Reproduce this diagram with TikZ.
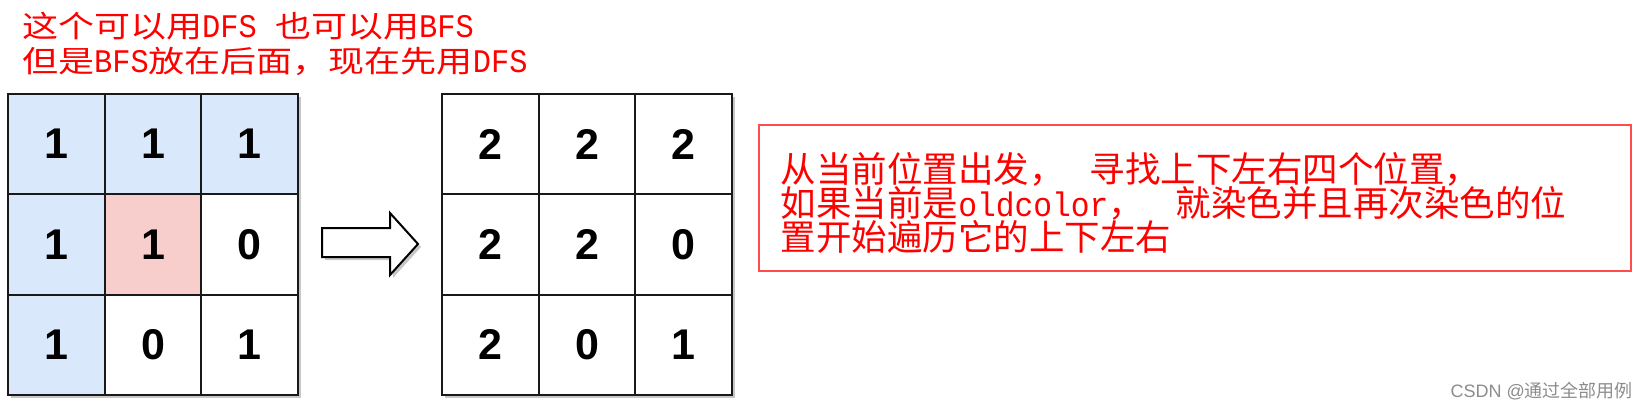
\documentclass[tikz,border=0pt]{standalone}
\usepackage{fontspec}
\setmainfont{Liberation Sans}
\newfontfamily\cjkA[FakeStretch=1.2]{Noto Sans CJK SC}
\newfontfamily\cjkB{Noto Sans CJK SC}
\newfontfamily\latA[FakeStretch=0.92]{Liberation Mono}
\newcommand\latw[1]{{\fontsize{33}{33}\selectfont\latA #1}}
\definecolor{cellblue}{HTML}{DAE8FC}
\definecolor{cellred}{HTML}{F8CECC}
\definecolor{boxred}{HTML}{FF4D4D}
\definecolor{wmgray}{HTML}{8C8C8C}
\begin{document}
\begin{tikzpicture}[x=1pt,y=-1pt,
  cell/.style={draw=black!90,line width=1.8pt,minimum width=96.7pt,minimum height=100.3pt,
    inner sep=0pt,font=\fontsize{43}{43}\selectfont\bfseries},
  blue/.style={cell,fill=cellblue},
  pink/.style={cell,fill=cellred},
  plain/.style={cell,fill=white},
  shadowfill/.style={fill=black!22},
  redtxt/.style={anchor=base west,inner sep=0pt,text=red,align=left},
  notebox/.style={draw=boxred,line width=1.6pt,text=red,align=left,anchor=north west,
    minimum height=146pt,text width=828pt,inner xsep=22pt,inner ysep=0pt},
  blockarrow/.style={draw=black,line width=2pt,fill=white,line join=miter}]
\useasboundingbox (0,0) rectangle (1648,410);
% top notes (base anchor = baseline of the last line)
\node[redtxt,font=\fontsize{30}{35}\selectfont\cjkA] (t1) at (22,72) {这个可以用\latw{DFS }也可以用\latw{BFS}\\但是\latw{BFS}放在后面，现在先用\latw{DFS}};
% shadows
\fill[shadowfill] (11,97) rectangle (301,398);
\fill[shadowfill] (445,97) rectangle (735,398);
\fill[shadowfill] (325,231) -- (393,231) -- (393,216) -- (421,247) -- (393,278) -- (393,260) -- (325,260) -- cycle;
% left grid
\node[blue] (L11) at (56.35,144.15) {1};
\node[blue] (L12) at (153,144.15) {1};
\node[blue] (L13) at (249.65,144.15) {1};
\node[blue] (L21) at (56.35,244.45) {1};
\node[pink] (L22) at (153,244.45) {1};
\node[plain] (L23) at (249.65,244.45) {0};
\node[blue] (L31) at (56.35,344.75) {1};
\node[plain] (L32) at (153,344.75) {0};
\node[plain] (L33) at (249.65,344.75) {1};
% arrow
\draw[blockarrow] (322,228) -- (390,228) -- (390,213) -- (418,244) -- (390,275) -- (390,257) -- (322,257) -- cycle;
% right grid
\node[plain] (R11) at (490.35,144.15) {2};
\node[plain] (R12) at (587,144.15) {2};
\node[plain] (R13) at (683.65,144.15) {2};
\node[plain] (R21) at (490.35,244.45) {2};
\node[plain] (R22) at (587,244.45) {2};
\node[plain] (R23) at (683.65,244.45) {0};
\node[plain] (R31) at (490.35,344.75) {2};
\node[plain] (R32) at (587,344.75) {0};
\node[plain] (R33) at (683.65,344.75) {1};
% red note box with its text
\node[notebox,font=\fontsize{35.5}{34}\selectfont\cjkB] (box) at (758,124) {\rule{0pt}{40pt}从当前位置出发，\hspace{25pt}寻找上下左右四个位置，\\如果当前是{\fontsize{34}{34}\selectfont\latA oldcolor}，\hspace{32pt}就染色并且再次染色的位\\置开始遍历它的上下左右};
% watermark
\node[anchor=base east,inner sep=0pt,text=wmgray,font=\fontsize{18}{18}\selectfont] (wm) at (1633,397) {CSDN @{\cjkB 通过全部用例}};
\end{tikzpicture}
\end{document}
